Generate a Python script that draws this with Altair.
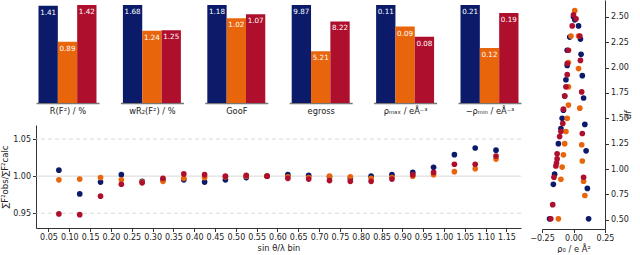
import altair as alt
import pandas as pd

# ---------------- data ----------------
series = ["S1", "S2", "S3"]
colors = ["#0b1a69", "#e8650c", "#ae0f2d"]

metrics = ["R(F²) / %", "wR₂(F²) / %", "GooF", "egross", "ρₘₐₓ / eÅ⁻³", "−ρₘᵢₙ / eÅ⁻³"]
bar_s1 = [1.41, 1.68, 1.18, 9.87, 0.114, 0.210]
bar_s2 = [0.89, 1.24, 1.02, 5.21, 0.089, 0.118]
bar_s3 = [1.42, 1.25, 1.07, 8.22, 0.077, 0.193]

bins = [0.075, 0.125, 0.175, 0.225, 0.275, 0.325, 0.375, 0.425, 0.475, 0.525, 0.575,
        0.625, 0.675, 0.725, 0.775, 0.825, 0.875, 0.925, 0.975, 1.025, 1.075, 1.125]
ratio_s1 = [1.008, 0.976, 0.992, 1.002, 0.993, 0.995, 0.995, 0.992, 0.995, 0.998, 1.000,
            1.002, 1.001, 0.999, 0.997, 1.000, 1.002, 1.005, 1.012, 1.029, 1.038, 1.035]
ratio_s2 = [0.995, 0.996, 0.998, 0.995, 0.992, 0.993, 0.997, 0.998, 0.999, 1.000, 1.000,
            0.999, 0.998, 1.000, 0.999, 0.997, 0.998, 1.000, 1.002, 1.006, 1.010, 1.023]
ratio_s3 = [0.949, 0.948, 0.973, 0.989, 0.991, 0.997, 1.003, 1.002, 1.000, 1.001, 1.000,
            0.997, 0.996, 0.994, 0.993, 0.993, 0.996, 1.002, 1.005, 1.016, 1.016, 1.027]
bin_ticks = [0.05, 0.10, 0.15, 0.20, 0.25, 0.30, 0.35, 0.40, 0.45, 0.50, 0.55, 0.60,
             0.65, 0.70, 0.75, 0.80, 0.85, 0.90, 0.95, 1.00, 1.05, 1.10, 1.15]
ratio_ticks = [0.95, 1.00, 1.05]

d_s1 = [2.50, 2.47, 2.41, 2.30, 2.28, 2.17, 2.13, 2.02, 1.92, 1.88, 1.72, 1.70, 1.58,
        1.50, 1.44, 1.40, 1.25, 1.18, 0.95, 0.85, 0.81, 0.51, 0.51]
rho_s1 = [0.00, 0.01, 0.04, -0.03, 0.055, -0.05, 0.06, -0.05, 0.07, -0.06, -0.07, 0.08, -0.08,
          -0.09, 0.09, -0.10, -0.12, 0.10, -0.15, -0.16, 0.11, -0.19, 0.12]
d_s2 = [2.56, 2.31, 2.31, 2.05, 1.99, 1.81, 1.63, 1.60, 1.50, 1.37, 1.25, 1.24, 1.14,
        1.08, 1.02, 0.90, 0.88, 0.74, 0.51]
rho_s2 = [0.01, -0.02, 0.04, -0.04, 0.04, -0.04, -0.04, 0.05, -0.05, -0.06, -0.07, 0.065, -0.08,
          0.07, -0.09, -0.10, 0.08, 0.09, -0.12]
d_s3 = [2.52, 2.48, 2.41, 2.31, 2.17, 2.07, 2.04, 1.93, 1.81, 1.76, 1.72, 1.59, 1.45,
        1.37, 1.35, 1.32, 1.15, 1.10, 1.06, 1.03, 0.92, 0.92, 0.65, 0.51]
rho_s3 = [0.00, 0.02, -0.01, 0.05, -0.04, 0.055, -0.05, -0.05, -0.06, 0.065, -0.07, -0.08, -0.085,
          -0.10, 0.07, -0.11, -0.13, -0.13, -0.135, -0.14, -0.155, 0.08, -0.165, -0.18]
rho_ticks = [-0.25, 0.00, 0.25]
d_ticks = [0.50, 0.75, 1.00, 1.25, 1.50, 1.75, 2.00, 2.25, 2.50]

# ---------------- tables ----------------
bar_rows = []
for i, m in enumerate(metrics):
    for s, vals in zip(series, [bar_s1, bar_s2, bar_s3]):
        bar_rows.append({"metric": m, "series": s, "value": vals[i]})
bar_df = pd.DataFrame(bar_rows)

sc_rows = []
for s, vals in zip(series, [ratio_s1, ratio_s2, ratio_s3]):
    for b, v in zip(bins, vals):
        sc_rows.append({"series": s, "bin": b, "ratio": v})
sc_df = pd.DataFrame(sc_rows)

rp_rows = []
for s, ds, rs in zip(series, [d_s1, d_s2, d_s3], [rho_s1, rho_s2, rho_s3]):
    for d, r in zip(ds, rs):
        rp_rows.append({"series": s, "d": d, "rho": r})
rp_df = pd.DataFrame(rp_rows)

color_enc = alt.Color("series:N", scale=alt.Scale(domain=series, range=colors), legend=None)

# ---------------- bar panels ----------------
panels = []
for i, m in enumerate(metrics):
    top = max(bar_s1[i], bar_s2[i], bar_s3[i]) * 1.052
    base = alt.Chart(bar_df).transform_filter(alt.datum.metric == m).encode(
        x=alt.X("series:N", sort=series,
                scale=alt.Scale(paddingInner=0, paddingOuter=0.13),
                axis=alt.Axis(title=m, labels=False, ticks=False, domainColor="#777",
                              domainWidth=1.3, titleFontSize=8.3, titleFontWeight="normal",
                              titlePadding=3, titleColor="#222")),
        y=alt.Y("value:Q", scale=alt.Scale(domain=[0, top], nice=False), axis=None),
    )
    bars = base.mark_bar().encode(color=color_enc)
    txt = base.mark_text(baseline="top", dy=3, color="white", fontSize=7.2).encode(
        text=alt.Text("value:Q", format=".2f"))
    panels.append(alt.layer(bars, txt).properties(width=63, height=103))

bar_row = alt.hconcat(*panels, spacing=21.4)

# ---------------- scatter ----------------
grid_dash = alt.Chart(pd.DataFrame({"y": [0.95, 1.05]})).mark_rule(
    color="#cfcfcf", strokeDash=[4, 3], strokeWidth=0.8).encode(y="y:Q")
grid_solid = alt.Chart(pd.DataFrame({"y": [1.00]})).mark_rule(
    color="#cfcfcf", strokeWidth=0.8).encode(y="y:Q")
pts = alt.Chart(sc_df).mark_circle(size=32, opacity=1).encode(
    x=alt.X("bin:Q", scale=alt.Scale(domain=[0.02, 1.185], nice=False, zero=False),
            axis=alt.Axis(values=bin_ticks, format=".2f", title="sin θ/λ bin", grid=False,
                          labelFlush=False, labelOverlap=False, titlePadding=2)),
    y=alt.Y("ratio:Q", scale=alt.Scale(domain=[0.93, 1.069], nice=False, zero=False),
            axis=alt.Axis(values=ratio_ticks, format=".2f", title="∑F²obs/∑F²calc", grid=False,
                          titlePadding=3, titleFontSize=8.5)),
    color=color_enc,
)
scatter = alt.layer(grid_dash, grid_solid, pts).properties(width=485, height=103)

left_col = alt.vconcat(bar_row, scatter, spacing=10)

# ---------------- right panel ----------------
right = alt.Chart(rp_df).mark_circle(size=32, opacity=1).encode(
    x=alt.X("rho:Q", scale=alt.Scale(domain=[-0.25, 0.25], nice=False, zero=False),
            axis=alt.Axis(values=rho_ticks, format=".2f", title="ρ₀ / e Å²", grid=False,
                          labelFlush=False, labelOverlap=False, titlePadding=2)),
    y=alt.Y("d:Q", scale=alt.Scale(domain=[0.41, 2.665], nice=False, zero=False),
            axis=alt.Axis(orient="right", values=d_ticks, format=".2f", title="df",
                          titleAngle=270, titleFontStyle="italic", grid=False, titlePadding=4,
                          labelFlush=False)),
    color=color_enc,
).properties(width=63, height=229)

chart = alt.hconcat(left_col, right, spacing=7).properties(
    padding={"left": 0, "top": 0, "right": 0, "bottom": 0}
).configure(font="DejaVu Sans").configure_view(stroke=None).configure_axis(
    labelFontSize=8, labelColor="#222", titleColor="#222", titleFontWeight="normal",
    titleFontSize=8.3, tickColor="#333", domainColor="#333", tickSize=3.5, labelPadding=2
)

chart.save("out.html", embed_options={"renderer": "svg", "actions": False})
